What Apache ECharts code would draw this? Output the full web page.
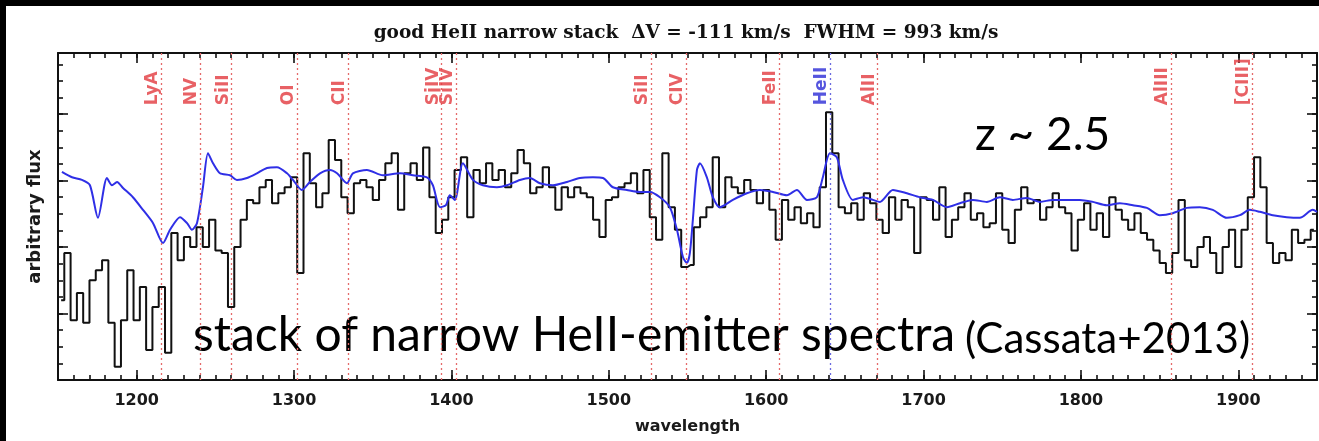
<!DOCTYPE html>
<html>
<head>
<meta charset="utf-8">
<script src="https://cdn.jsdelivr.net/npm/echarts@6/dist/echarts.min.js"></script>
<style>
  html, body { margin: 0; padding: 0; background: #fff; width: 100%; height: 100%; overflow: hidden; }
  #chart { position: absolute; left: 6px; top: 6px; right: 0; bottom: 0; background: #fff; }
  #bandTop { position: absolute; left: 0; top: 0; right: 0; height: 6px; background: #000; z-index: 5; }
  #bandLeft { position: absolute; left: 0; top: 0; width: 6px; bottom: 0; background: #000; z-index: 5; }
</style>
</head>
<body>
<div id="chart"></div>
<div id="bandTop"></div>
<div id="bandLeft"></div>
<script>
// ---- data ----
const binStart = 1150;   // first bin edge (Å)
const binWidth = 4;      // bin width (Å)
const stackFlux = [
  1.20,1.91,0.90,1.31,0.86,1.50,1.65,1.80,0.86,0.20,
  0.90,1.65,0.90,1.40,0.45,1.10,1.40,0.41,2.21,1.80,
  2.15,2.00,2.30,2.00,2.41,1.95,1.91,1.10,2.00,2.41,
  2.71,2.66,2.90,3.01,2.66,2.81,2.90,3.05,1.61,3.41,
  2.96,2.60,2.81,3.61,3.31,2.75,2.51,2.96,3.01,2.90,
  2.71,3.01,3.26,3.41,2.56,3.11,3.26,3.01,3.50,2.75,
  2.21,2.41,2.75,3.16,3.35,2.45,3.16,2.96,3.26,3.01,
  3.16,2.90,3.11,3.46,3.26,2.81,2.90,3.20,2.90,2.56,
  2.90,2.75,2.90,2.81,2.75,2.41,2.15,2.71,2.75,2.90,
  2.96,3.11,2.81,3.16,2.45,2.11,3.41,2.60,2.26,1.70,
  1.73,2.30,2.45,2.60,3.35,2.60,3.05,2.90,2.81,3.01,
  2.86,2.66,2.86,2.56,2.11,2.71,2.41,2.60,2.36,2.51,
  2.30,2.90,4.03,3.41,2.60,2.51,2.66,2.41,2.81,2.66,
  2.41,2.21,2.75,2.41,2.71,2.60,1.91,2.75,2.71,2.41,
  2.90,2.15,2.41,2.60,2.81,2.41,2.51,2.30,2.36,2.81,
  2.26,2.06,2.56,2.90,2.66,2.71,2.41,2.60,2.81,2.60,
  2.51,1.95,2.41,2.66,2.26,2.51,2.15,2.75,2.56,2.41,
  2.26,2.51,2.21,2.11,1.95,1.76,1.61,1.91,2.71,1.80,
  1.70,2.00,2.15,1.91,1.61,2.00,2.26,1.70,2.26,2.75,
  3.35,2.90,2.06,1.76,1.91,1.80,2.26,2.06,2.11,2.26
];
const modelWave = [
  1152.5,1158.9,1165.2,1170.3,1175.4,1181.1,1184.3,1187.5,1191.3,1197.6,
  1204.0,1210.4,1216.7,1221.2,1227.5,1232.0,1235.1,1238.3,1242.1,1245.3,
  1248.5,1252.9,1259.3,1263.7,1270.1,1276.4,1282.8,1289.1,1295.5,1299.3,
  1305.0,1310.1,1316.5,1322.8,1327.3,1333.6,1337.4,1346.3,1356.5,1367.3,
  1375.5,1384.4,1388.2,1392.7,1396.5,1399.0,1402.2,1407.3,1413.7,1420.0,
  1428.9,1435.3,1443.5,1449.9,1456.2,1464.5,1473.4,1481.6,1489.9,1496.3,
  1502.6,1511.5,1519.8,1526.1,1532.5,1538.8,1543.3,1547.1,1549.6,1551.5,
  1553.4,1556.0,1557.9,1562.3,1566.1,1570.6,1578.8,1587.7,1596.0,1604.3,
  1613.2,1619.5,1625.9,1632.2,1636.0,1640.5,1644.9,1648.7,1655.1,1661.4,
  1667.8,1672.2,1680.5,1689.4,1697.6,1705.9,1714.8,1723.1,1731.3,1740.2,
  1748.5,1756.7,1765.6,1773.9,1782.1,1791.0,1799.3,1807.6,1816.4,1824.7,
  1833.0,1841.9,1850.1,1858.4,1867.3,1875.5,1883.8,1892.7,1901.0,1907.3,
  1913.7,1921.9,1930.8,1939.1,1947.3,1950.0
];
const modelFlux = [
  3.13,3.05,3.01,2.93,2.44,3.04,2.93,2.98,2.89,2.75,
  2.56,2.36,2.06,2.26,2.45,2.36,2.26,2.36,2.90,3.41,
  3.26,3.11,3.08,3.01,3.04,3.11,3.19,3.20,3.11,3.01,
  2.86,2.98,3.11,3.16,3.11,2.96,3.11,3.16,3.08,3.11,
  3.08,3.05,2.93,2.60,2.63,2.78,2.71,3.26,3.01,2.93,
  2.90,2.93,3.01,3.04,2.96,2.93,2.98,3.04,3.05,3.04,
  2.90,2.86,2.83,2.83,2.75,2.60,2.26,1.85,1.76,1.91,
  2.41,3.16,3.26,3.05,2.75,2.60,2.71,2.81,2.86,2.83,
  2.78,2.86,2.71,2.75,3.05,3.41,3.35,3.01,2.71,2.75,
  2.71,2.68,2.86,2.81,2.75,2.71,2.60,2.66,2.71,2.68,
  2.75,2.71,2.74,2.68,2.71,2.71,2.71,2.68,2.63,2.66,
  2.63,2.59,2.48,2.51,2.59,2.60,2.56,2.44,2.48,2.56,
  2.53,2.48,2.45,2.44,2.56,2.53
];
const lineNames = ['LyA','NV','SiII','OI','CII','SiIV','SiIV','SiII','CIV','FeII','HeII','AlII','AlIII','[CIII]'];
const lineWaves = [1215.7,1240.1,1260.4,1302.2,1334.5,1393.8,1402.8,1526.7,1549.1,1608.5,1640.4,1670.8,1857.4,1908.7];
const xTickLabels = [1200,1300,1400,1500,1600,1700,1800,1900];
const yTicks = [0,1,2,3,4];
const titleText = 'good HeII narrow stack  \u0394V = -111 km/s  FWHM = 993 km/s';

// ---- chart ----
const X_MIN = 1150, X_MAX = 1950, Y_MIN = 0, Y_MAX = 4.92;
const xMinor = []; for (let v = X_MIN; v <= X_MAX; v += 10) xMinor.push(v);
const yMinor = []; for (let v = 0; v <= Y_MAX; v += 0.25) yMinor.push(+v.toFixed(2));
const RED = '#e23a3f', BLUE_LBL = '#2b2bd6';

const chart = echarts.init(document.getElementById('chart'), null, { renderer: 'canvas' });

const axisFont = { fontFamily: 'DejaVu Sans', fontWeight: 'bold', fontSize: 16, color: '#1a1a1a' };

function xAx(pos, vals, len, showLine, showLabels) {
  return {
    type: 'value', position: pos, min: X_MIN, max: X_MAX, gridIndex: 0,
    axisLine: { show: showLine, onZero: false, lineStyle: { color: '#111', width: 2 } },
    axisTick: { show: true, inside: true, length: len, customValues: vals, lineStyle: { color: '#111', width: 1.6 } },
    axisLabel: showLabels ? Object.assign({ show: true, customValues: xTickLabels, margin: 13, formatter: v => String(v) }, axisFont) : { show: false },
    splitLine: { show: false },
    name: showLabels ? 'wavelength' : '', nameLocation: 'middle', nameGap: 39,
    nameTextStyle: axisFont
  };
}
function yAx(pos, vals, len, showLine, showName) {
  return {
    type: 'value', position: pos, min: Y_MIN, max: Y_MAX, gridIndex: 0,
    axisLine: { show: showLine, onZero: false, lineStyle: { color: '#111', width: 2 } },
    axisTick: { show: true, inside: true, length: len, customValues: vals, lineStyle: { color: '#111', width: 1.6 } },
    axisLabel: { show: false },
    splitLine: { show: false },
    name: showName ? 'arbitrary flux' : '', nameLocation: 'middle', nameGap: 14,
    nameTextStyle: Object.assign({}, axisFont, { fontSize: 18 })
  };
}

const stackData = stackFlux.map((v, i) => [binStart + (i + 0.5) * binWidth, v]);
const modelData = modelWave.map((w, i) => [w, modelFlux[i]]);

const option = {
  animation: false,
  grid: { left: 52, top: 47, right: 2, bottom: 61, containLabel: false },
  xAxis: [
    xAx('bottom', xTickLabels, 10, true, true),
    xAx('bottom', xMinor, 5, false, false),
    xAx('top', xTickLabels, 10, true, false),
    xAx('top', xMinor, 5, false, false)
  ],
  yAxis: [
    yAx('left', yTicks, 10, true, true),
    yAx('left', yMinor, 5, false, false),
    yAx('right', yTicks, 10, true, false),
    yAx('right', yMinor, 5, false, false)
  ],
  series: [
    {
      type: 'line', name: 'lines', data: [], xAxisIndex: 0, yAxisIndex: 0,
      markLine: {
        silent: true, symbol: 'none', animation: false,
        label: { show: false },
        data: lineWaves.map((w, i) => ({
          xAxis: w,
          lineStyle: { color: lineNames[i] === 'HeII' ? '#6a6ae0' : '#e56a6a', type: [2, 3], width: 1.3 }
        }))
      }
    },
    {
      type: 'line', name: 'stack', data: stackData, step: 'middle', showSymbol: false, symbol: 'none',
      xAxisIndex: 0, yAxisIndex: 0, clip: true, z: 3,
      lineStyle: { color: '#111', width: 2 }
    },
    {
      type: 'line', name: 'model', data: modelData, showSymbol: false, symbol: 'none', smooth: 0.25,
      xAxisIndex: 0, yAxisIndex: 0, clip: true, z: 4,
      lineStyle: { color: '#2f2fe6', width: 2 }
    },
    {
      type: 'scatter', name: 'labels', xAxisIndex: 0, yAxisIndex: 0, symbolSize: 0, z: 5, silent: true,
      data: lineWaves.map((w, i) => ({ value: [w, 4.15], name: lineNames[i] })),
      label: {
        show: true, position: 'inside', rotate: 90, align: 'left', verticalAlign: 'bottom',
        offset: [-1, 0],
        formatter: p => p.name,
        fontFamily: 'DejaVu Sans', fontWeight: 'bold', fontSize: 17,
        color: RED
      }
    }
  ],
  graphic: [
    { type: 'text', x: 680, y: 27, style: { text: titleText, align: 'center', verticalAlign: 'middle', font: 'bold 18.5px "DejaVu Serif"', fill: '#111' } },
    { type: 'text', x: 969, y: 129, style: { text: 'z ~ 2.5', align: 'left', verticalAlign: 'middle', font: '46px Lato', fill: '#000' } },
    { type: 'text', x: 187, y: 354, style: { text: 'stack of narrow HeII-emitter spectra', align: 'left', verticalAlign: 'bottom', font: '48px Lato', fill: '#000' } },
    { type: 'text', x: 959, y: 354, style: { text: '(Cassata+2013)', align: 'left', verticalAlign: 'bottom', font: '42px Lato', fill: '#000' } }
  ]
};
option.series[3].data.forEach(d => { if (d.name === 'HeII') d.label = { color: BLUE_LBL }; });

chart.setOption(option);
</script>
</body>
</html>
